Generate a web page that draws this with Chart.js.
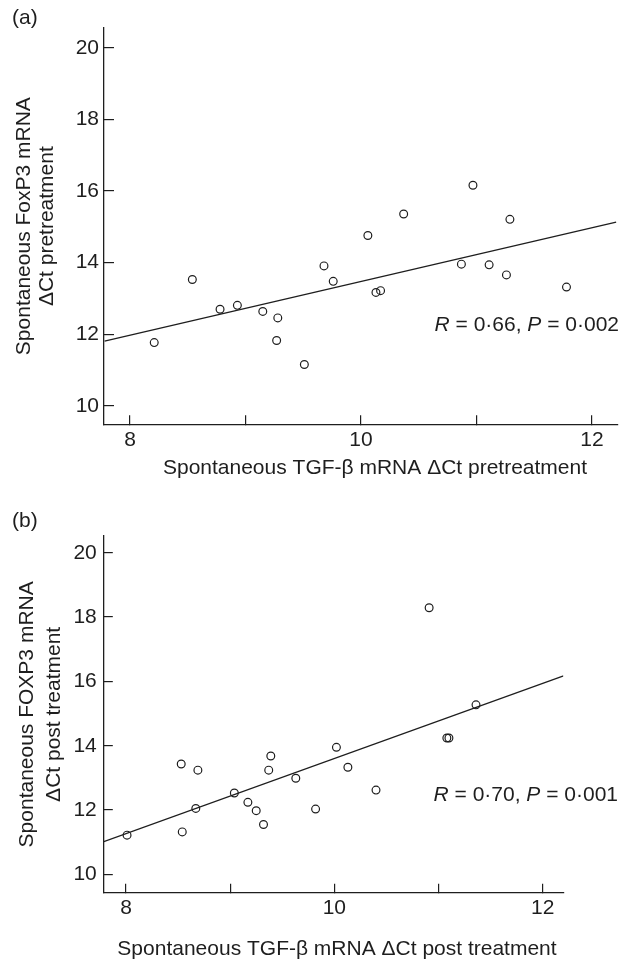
<!DOCTYPE html>
<html>
<head>
<meta charset="utf-8">
<script src="https://cdn.jsdelivr.net/npm/chart.js@4/dist/chart.umd.min.js"></script>
<style>
  html, body { margin: 0; padding: 0; background: #ffffff; }
  body { width: 630px; height: 966px; position: relative; overflow: hidden; }
  canvas { position: absolute; left: 0; }
  #chartA { top: 0; }
  #chartB { top: 483px; }
</style>
</head>
<body>
<canvas id="chartA" width="630" height="483"></canvas>
<canvas id="chartB" width="630" height="483"></canvas>
<script>
// ---------- data ----------
const xTicks = [8, 9, 10, 11, 12];
const xTickLabels = ['8', '', '10', '', '12'];
const yTicks = [10, 12, 14, 16, 18, 20];
const yTickLabels = ['10', '12', '14', '16', '18', '20'];

// Panel (a): pretreatment
const tgfPre   = [8.21, 8.54, 8.78, 8.93, 9.15, 9.28, 9.27, 9.51, 9.68, 9.76, 10.06, 10.13, 10.17, 10.37, 10.87, 10.97, 11.11, 11.26, 11.29, 11.78];
const foxp3Pre = [11.77, 13.53, 12.70, 12.81, 12.64, 12.46, 11.83, 11.16, 13.91, 13.48, 14.76, 13.17, 13.22, 15.36, 13.96, 16.16, 13.94, 13.66, 15.21, 13.32];
const fitPreX  = [7.78, 12.21];
const fitPreY  = [11.81, 15.13];

// Panel (b): post treatment
const tgfPost   = [8.01, 8.53, 8.54, 8.69, 8.67, 9.04, 9.17, 9.25, 9.32, 9.37, 9.39, 9.63, 9.82, 10.02, 10.13, 10.40, 10.91, 11.08, 11.10, 11.36];
const foxp3Post = [11.22, 13.43, 11.32, 13.24, 12.05, 12.53, 12.24, 11.98, 11.55, 13.24, 13.68, 12.99, 12.03, 13.95, 13.33, 12.62, 18.29, 14.24, 14.24, 15.27];
const fitPostX  = [7.78, 12.20];
const fitPostY  = [11.01, 16.17];

// texts
const labelA = '(a)';
const labelB = '(b)';
const yTitleA = ['Spontaneous FoxP3 mRNA', '\u0394Ct pretreatment'];
const yTitleB = ['Spontaneous FOXP3 mRNA', '\u0394Ct post treatment'];
const xTitleA = 'Spontaneous TGF-\u03b2 mRNA \u0394Ct pretreatment';
const xTitleB = 'Spontaneous TGF-\u03b2 mRNA \u0394Ct post treatment';
const statA = [['R', true], [' = 0\u00b766, ', false], ['P', true], [' = 0\u00b7002', false]];
const statB = [['R', true], [' = 0\u00b770, ', false], ['P', true], [' = 0\u00b7001', false]];

// ---------- drawing ----------
const INK = '#1e1e1e';
const FAMILY = '"Liberation Sans", Arial, Helvetica, sans-serif';
const FS = 21;

const textPlugin = {
  id: 'panelText',
  afterDraw(chart, args, opts) {
    const ctx = chart.ctx;
    ctx.save();
    ctx.fillStyle = INK;
    ctx.textBaseline = 'middle';
    for (const item of opts.items) {
      const parts = item.parts;
      const fontFor = (it) => (it ? 'italic ' : '') + FS + 'px ' + FAMILY;
      let total = 0;
      for (const [t, it] of parts) { ctx.font = fontFor(it); total += ctx.measureText(t).width; }
      let x = item.x;
      if (item.align === 'right') x -= total;
      else if (item.align === 'center') x -= total / 2;
      ctx.textAlign = 'left';
      for (const [t, it] of parts) {
        ctx.font = fontFor(it);
        ctx.fillText(t, x, item.y);
        x += ctx.measureText(t).width;
      }
    }
    ctx.restore();
  }
};

function makePanel(id, xs, ys, fx, fy, g, yTitle, texts) {
  const pts = xs.map((x, i) => ({ x: x, y: ys[i] }));
  const fit = fx.map((x, i) => ({ x: x, y: fy[i] }));
  return new Chart(document.getElementById(id), {
    type: 'scatter',
    data: {
      datasets: [
        {
          data: pts,
          pointStyle: 'circle',
          pointRadius: 3.9,
          pointBorderWidth: 1.2,
          pointBorderColor: INK,
          pointBackgroundColor: 'rgba(255,255,255,0)',
          showLine: false
        },
        {
          data: fit,
          showLine: true,
          borderColor: INK,
          borderWidth: 1.3,
          pointRadius: 0,
          fill: false,
          tension: 0
        }
      ]
    },
    options: {
      responsive: false,
      animation: false,
      events: [],
      layout: { padding: { left: 0, right: g.padRight, top: g.padTop, bottom: 0 } },
      plugins: {
        legend: { display: false },
        tooltip: { enabled: false },
        panelText: { items: texts }
      },
      scales: {
        x: {
          type: 'linear',
          position: 'bottom',
          min: g.xMin, max: g.xMax,
          afterBuildTicks: (s) => { s.ticks = xTicks.map(v => ({ value: v })); },
          afterFit: (s) => { s.height = g.xH; },
          ticks: {
            autoSkip: false, maxRotation: 0,
            padding: g.xPad,
            color: INK,
            font: { family: FAMILY, size: FS, lineHeight: 1.2 },
            callback: (v, i) => xTickLabels[i]
          },
          grid: { drawOnChartArea: false, drawTicks: true, tickLength: -g.xTickLen, color: INK, lineWidth: 1.2 },
          border: { display: true, color: INK, width: 1.3 },
          title: { display: false }
        },
        y: {
          type: 'linear',
          position: 'left',
          min: g.yMin, max: g.yMax,
          afterBuildTicks: (s) => { s.ticks = yTicks.map(v => ({ value: v })); },
          afterFit: (s) => { s.width = g.yW; },
          ticks: {
            autoSkip: false,
            padding: g.yPad,
            color: INK,
            font: { family: FAMILY, size: FS, lineHeight: 1.2 },
            callback: (v, i) => yTickLabels[i]
          },
          grid: { drawOnChartArea: false, drawTicks: true, tickLength: -g.yTickLen, color: INK, lineWidth: 1.2 },
          border: { display: true, color: INK, width: 1.3 },
          title: {
            display: true,
            text: yTitle,
            color: INK,
            font: { family: FAMILY, size: FS, lineHeight: g.yTitleLH },
            padding: { top: g.yTitlePad, bottom: 0 }
          }
        }
      }
    },
    plugins: [textPlugin]
  });
}

makePanel('chartA', tgfPre, foxp3Pre, fitPreX, fitPreY, {
  padRight: 12.7, padTop: 28, xH: 58.7, yW: 104,
  xMin: 7.775, xMax: 12.22, yMin: 9.49, yMax: 20.55,
  xPad: 12, yPad: 15, xTickLen: 9, yTickLen: 10,
  yTitleLH: 23 / FS, yTitlePad: 12.5
}, yTitleA, [
  { parts: [[labelA, false]], x: 12, y: 18, align: 'left' },
  { parts: [[xTitleA, false]], x: 375, y: 468, align: 'center' },
  { parts: statA, x: 619, y: 325, align: 'right' }
]);

makePanel('chartB', tgfPost, foxp3Post, fitPostX, fitPostY, {
  padRight: 66.7, padTop: 53, xH: 73.3, yW: 103.3,
  xMin: 7.782, xMax: 12.198, yMin: 9.43, yMax: 20.52,
  xPad: 11.7, yPad: 16, xTickLen: 9, yTickLen: 9.5,
  yTitleLH: 27 / FS, yTitlePad: 13.5
}, yTitleB, [
  { parts: [[labelB, false]], x: 12, y: 38, align: 'left' },
  { parts: [[xTitleB, false]], x: 337, y: 466, align: 'center' },
  { parts: statB, x: 618, y: 312, align: 'right' }
]);
</script>
</body>
</html>
